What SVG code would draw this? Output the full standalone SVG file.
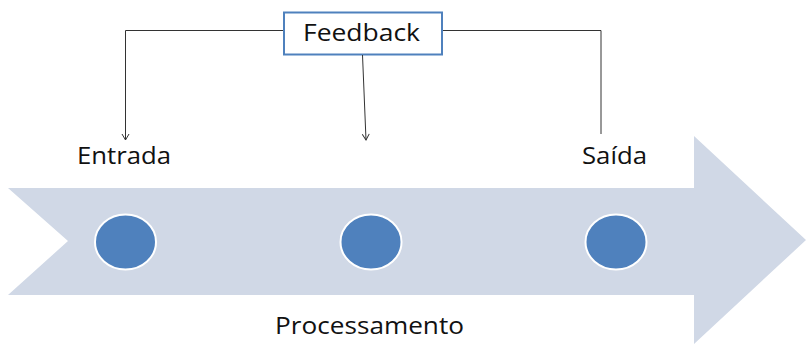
<svg xmlns="http://www.w3.org/2000/svg" width="806" height="344" viewBox="0 0 806 344">
<style>
.lbl{font-family:"Open Sans","Liberation Sans",sans-serif;font-size:23px;fill:#111}
.con{fill:none;stroke:#333;stroke-width:1}
.dot{fill:#4F81BD;stroke:#fff;stroke-width:2}
</style>
<defs>
<marker id="v" markerWidth="10" markerHeight="10" refX="8" refY="5" orient="auto" markerUnits="userSpaceOnUse" viewBox="0 0 10 10">
<path d="M2,1.5 L8,5 L2,8.5" fill="none" stroke="#333" stroke-width="1"/>
</marker>
</defs>
<rect width="806" height="344" fill="#fff"/>
<g id="processamento">
<polygon points="8,188 694,188 694,136 806,240 694,344 694,295 8,295 68,241" fill="#D0D8E6"/>
<ellipse class="dot" cx="125.5" cy="242" rx="30.5" ry="27.5"/>
<ellipse class="dot" cx="371" cy="242" rx="30.5" ry="27.5"/>
<ellipse class="dot" cx="616" cy="242" rx="30.5" ry="27.5"/>
<text class="lbl" x="275" y="334" textLength="189" lengthAdjust="spacingAndGlyphs">Processamento</text>
</g>
<g id="entrada">
<text class="lbl" x="77" y="164" textLength="94" lengthAdjust="spacingAndGlyphs">Entrada</text>
</g>
<g id="saida">
<text class="lbl" x="582" y="164" textLength="65" lengthAdjust="spacingAndGlyphs">Saída</text>
</g>
<g id="feedback">
<rect x="284" y="12.5" width="158" height="42" fill="#fff" stroke="#4F81BD" stroke-width="2"/>
<text class="lbl" x="303" y="41" textLength="117" lengthAdjust="spacingAndGlyphs">Feedback</text>
</g>
<g id="connectors">
<path class="con" d="M283,30.5 H125.5 V140" marker-end="url(#v)"/>
<path class="con" d="M362.5,55 L366,140" marker-end="url(#v)"/>
<path class="con" d="M443,30.5 H601 V134"/>
</g>
</svg>
